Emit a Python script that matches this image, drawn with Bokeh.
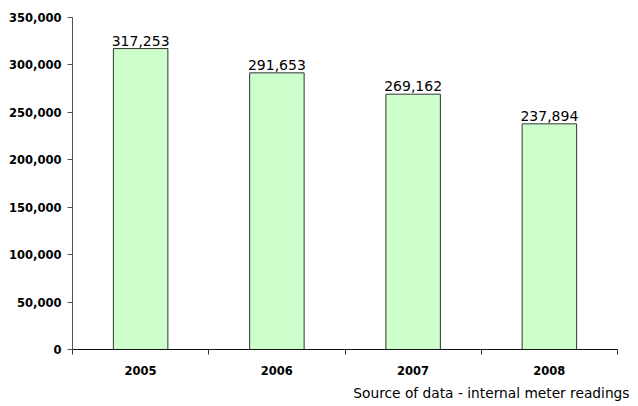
from bokeh.plotting import figure
from bokeh.models import ColumnDataSource, FixedTicker, NumeralTickFormatter, Range1d, Title
from bokeh.core.properties import value
from bokeh.embed import file_html
from bokeh.resources import INLINE

years = ["2005", "2006", "2007", "2008"]
values = [317253, 291653, 269162, 237894]
value_labels = ["317,253", "291,653", "269,162", "237,894"]
y_ticks = [0, 50000, 100000, 150000, 200000, 250000, 300000, 350000]
source_note = "Source of data - internal meter readings"

xs = [i + 0.5 for i in range(len(years))]
src = ColumnDataSource(dict(x=xs, top=values, lab=value_labels))

p = figure(width=638, height=406, output_backend="svg", toolbar_location=None,
           x_range=Range1d(0, len(years)), y_range=Range1d(0, 350000),
           min_border_left=72, min_border_right=21, min_border_top=17, min_border_bottom=57)
p.outline_line_color = None
p.grid.visible = False
p.background_fill_color = "white"
p.border_fill_color = "white"

p.vbar(x="x", top="top", width=0.4, bottom=0, source=src,
       fill_color="#CCFFCC", line_color="#333333", line_width=1)
p.text(x="x", y="top", text="lab", source=src, text_align="center", text_baseline="bottom",
       y_offset=-3, text_font_size="14px", text_color="#000000", text_font=value("DejaVu Sans"))

xa = p.xaxis[0]
xa.ticker = FixedTicker(ticks=xs, minor_ticks=list(range(len(years) + 1)))
xa.major_label_overrides = {x: y for x, y in zip(xs, years)}
xa.major_tick_line_color = None
xa.minor_tick_in = 0
xa.minor_tick_out = 5
xa.minor_tick_line_color = "#333333"
xa.axis_line_color = "#111111"
xa.major_label_standoff = 10
xa.major_label_text_font = "DejaVu Sans"
xa.major_label_text_font_style = "bold"
xa.major_label_text_font_size = "11.5px"
xa.major_label_text_color = "#000000"

ya = p.yaxis[0]
ya.ticker = FixedTicker(ticks=y_ticks)
ya.formatter = NumeralTickFormatter(format="0,0")
ya.minor_tick_line_color = None
ya.major_tick_in = 0
ya.major_tick_out = 5
ya.major_tick_line_color = "#555555"
ya.axis_line_color = "#555555"
ya.major_label_standoff = 6
ya.major_label_text_font = "DejaVu Sans"
ya.major_label_text_font_style = "bold"
ya.major_label_text_font_size = "11.5px"
ya.major_label_text_color = "#000000"

note = Title(text=source_note, align="right", offset=-12, standoff=10,
             text_font_size="13.75px", text_font="DejaVu Sans", text_font_style="normal",
             text_color="#000000")
p.add_layout(note, "below")

open("out.html", "w").write(file_html(p, INLINE))
